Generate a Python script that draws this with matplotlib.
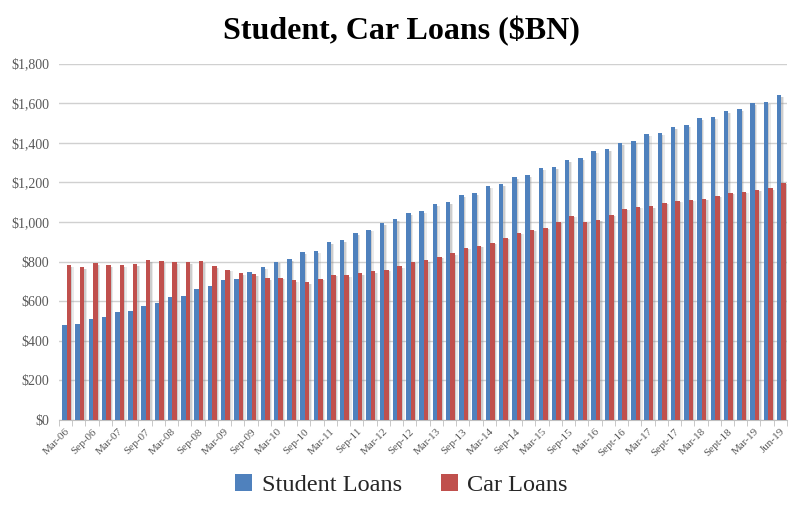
import matplotlib
matplotlib.use("Agg")
import matplotlib.pyplot as plt
import numpy as np
from matplotlib.ticker import FuncFormatter, MultipleLocator, FixedLocator

# quarterly values, $BN
student_loans = [480, 485, 510, 520, 545, 550, 576, 591, 621, 626,
                 662, 677, 707, 712, 747, 773, 800, 813, 848, 853,
                 899, 909, 944, 960, 995, 1015, 1045, 1055, 1091, 1101,
                 1136, 1146, 1182, 1192, 1227, 1237, 1273, 1278, 1313, 1323,
                 1358, 1369, 1399, 1409, 1444, 1449, 1480, 1490, 1525, 1530,
                 1560, 1571, 1601, 1606, 1641]
car_loans = [783, 773, 793, 783, 783, 788, 808, 803, 798, 798,
             803, 778, 758, 742, 737, 717, 719, 707, 697, 714,
             734, 732, 742, 752, 758, 778, 800, 808, 825, 843,
             870, 880, 895, 921, 946, 961, 971, 1001, 1032, 1001,
             1011, 1036, 1067, 1077, 1081, 1097, 1107, 1112, 1117, 1132,
             1147, 1152, 1162, 1172, 1199]
tick_labels = ["Mar-06", "Sep-06", "Mar-07", "Sep-07", "Mar-08", "Sep-08",
               "Mar-09", "Sep-09", "Mar-10", "Sep-10", "Mar-11", "Sep-11",
               "Mar-12", "Sep-12", "Mar-13", "Sep-13", "Mar-14", "Sep-14",
               "Mar-15", "Sep-15", "Mar-16", "Sept-16", "Mar-17", "Sept-17",
               "Mar-18", "Sept-18", "Mar-19", "Jun-19"]

BLUE = "#4F81BD"
RED = "#C0504D"
SERIF = ["Liberation Serif", "DejaVu Serif"]

plt.rcParams['font.family'] = SERIF

fig = plt.figure(figsize=(8.03, 5.12), dpi=100)
ax = fig.add_axes([0.0735, 0.1797, 0.9065, 0.6961])

x = np.arange(len(student_loans))
w = 0.34
blue_x = x - 0.10
red_x = x + 0.24

# soft shadows to the right of each bar
for off, a in [(0.10, 0.30), (0.20, 0.18)]:
    ax.bar(blue_x + off, np.array(student_loans) - 8, width=w, color="#8C8C8C",
           alpha=a, zorder=2, linewidth=0)
    ax.bar(red_x + off, np.array(car_loans) - 8, width=w, color="#8C8C8C",
           alpha=a, zorder=2, linewidth=0)

ax.bar(blue_x, student_loans, width=w, color=BLUE, zorder=3, linewidth=0,
       label="Student Loans")
ax.bar(red_x, car_loans, width=w, color=RED, zorder=3, linewidth=0,
       label="Car Loans")

ax.set_xlim(-0.5, len(x) - 0.5)
ax.set_ylim(0, 1800)
ax.yaxis.set_major_locator(MultipleLocator(200))
ax.yaxis.set_major_formatter(FuncFormatter(lambda v, p: f"${v:,.0f}"))
ax.grid(axis="y", color="#D0D0D0", linewidth=1.0, zorder=0)
ax.set_axisbelow(True)

# labels every second quarter, ticks at every category boundary
ax.xaxis.set_major_locator(FixedLocator(x[::2]))
ax.set_xticklabels(tick_labels, rotation=45, ha="right", va="top",
                   rotation_mode="anchor", fontsize=8, color="#595959")
ax.xaxis.set_minor_locator(FixedLocator(np.arange(-0.5, len(x), 1.0)))
ax.tick_params(axis="x", which="major", length=0, pad=5)
ax.tick_params(axis="x", which="minor", length=4, color="#BFBFBF")
ax.tick_params(axis="y", length=0, labelsize=10, labelcolor="#595959", pad=7)

for side in ["top", "right", "left"]:
    ax.spines[side].set_visible(False)
ax.spines["bottom"].set_color("#BFBFBF")

fig.text(0.5, 0.94, "Student, Car Loans ($BN)", ha="center", va="center",
         fontsize=23, fontweight="bold", color="black")

fig.legend(loc="center", bbox_to_anchor=(0.5, 0.053), ncol=2, frameon=False,
           fontsize=17.5, handlelength=0.7, handleheight=0.7, columnspacing=1.6,
           handletextpad=0.4, labelcolor="#262626")

fig.savefig("out.png", dpi=100)
